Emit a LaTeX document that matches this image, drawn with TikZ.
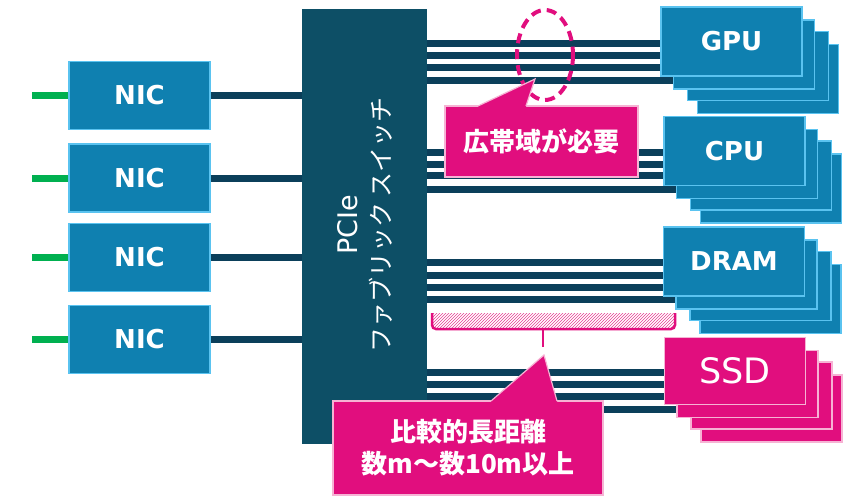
\documentclass[tikz,border=0pt]{standalone}
\usepackage{fontspec}
\newfontfamily\jp{Noto Sans CJK JP}
\newfontfamily\lat{DejaVu Sans}
\usetikzlibrary{backgrounds,patterns,calc}
\definecolor{pcieblue}{HTML}{0D4F66}
\definecolor{busblue}{HTML}{0B3F5A}
\definecolor{devblue}{HTML}{0F80B0}
\definecolor{devborder}{HTML}{5AC3F0}
\definecolor{mag}{HTML}{E10E7E}
\definecolor{pinkborder}{HTML}{F6B3D4}
\definecolor{hatchpink}{HTML}{E53D94}
\definecolor{netgreen}{HTML}{00B050}
\tikzset{
  devbox/.style={rectangle, fill=devblue, draw=devborder, line width=1.5pt,
    minimum width=141pt, minimum height=69pt, inner sep=0pt,
    text=white, font=\lat\bfseries\fontsize{26}{30}\selectfont},
  ssdbox/.style={rectangle, fill=mag, draw=pinkborder, line width=1.5pt,
    minimum width=141pt, minimum height=67pt, inner sep=0pt,
    text=white, font=\lat\fontsize{35}{40}\selectfont},
  nicbox/.style={rectangle, fill=devblue, draw=devborder, line width=1.5pt,
    minimum width=141pt, minimum height=68pt, inner sep=0pt,
    text=white, font=\lat\bfseries\fontsize{26}{30}\selectfont},
  bus/.style={draw=busblue, line width=7pt},
  netline/.style={draw=netgreen, line width=7pt},
  callout/.style={rectangle, fill=mag, draw=pinkborder, line width=1.2pt,
    inner sep=0pt, text=white, align=center,
    font=\jp\bfseries\fontsize{26}{32}\selectfont},
  pointer/.style={fill=mag},
  pointeredge/.style={draw=pinkborder, line width=1.2pt},
}
\newcommand\devstack[5]{%
  \node[#4] (#1d) at ($(#2,#3)+(36.5,37.5)$) {};
  \node[#4] (#1c) at ($(#2,#3)+(26.5,24.5)$) {};
  \node[#4] (#1b) at ($(#2,#3)+(12.5,13)$) {};
  \node[#4] (#1a) at (#2,#3) {#5};}
\begin{document}
\begin{tikzpicture}[x=1pt,y=-1pt]
\useasboundingbox (0,0) rectangle (846,501);

% PCIe switch
\node[rectangle, fill=pcieblue, minimum width=125pt, minimum height=435pt, inner sep=0pt] (pcie) at (364.5,226.5) {};
\node[rotate=90, text=white, font=\lat\fontsize{27}{30}\selectfont, inner sep=0pt] (pcielbl1) at (348,225) {PCIe};
\node[rotate=90, text=white, font=\jp\fontsize{25}{30}\selectfont, inner sep=0pt] (pcielbl2) at (381,225) {ファブリック スイッチ};

% NICs
\node[nicbox] (nic1) at (139.5,95.5) {NIC};
\node[nicbox] (nic2) at (139.5,178) {NIC};
\node[nicbox] (nic3) at (139.5,257.5) {NIC};
\node[nicbox] (nic4) at (139.5,339.5) {NIC};
\foreach \i in {1,2,3,4} {
  \coordinate (net\i) at (nic\i.west -| 32,0);
  \draw[netline] (net\i) -- (nic\i.west);
  \draw[bus] (nic\i.east) -- (nic\i.east -| pcie.west);
}

% device stacks
\devstack{gpu}{731.5}{41.5}{devbox}{GPU}
\devstack{cpu}{734.5}{151}{devbox}{CPU}
\devstack{dram}{734}{261.5}{devbox}{DRAM}
\devstack{ssd}{735}{371}{ssdbox}{SSD}

% buses
\begin{pgfonlayer}{background}
\foreach \y in {43,55,67} \draw[bus] (pcie.east |- 0,\y) -- (gpua.west |- 0,\y);
\draw[bus] (pcie.east |- 0,80) -- (gpub.west |- 0,80);
\foreach \y in {152,164,175} \draw[bus] (pcie.east |- 0,\y) -- (cpua.west |- 0,\y);
\draw[bus] (pcie.east |- 0,189) -- (cpub.west |- 0,189);
\foreach \y in {262,275,287} \draw[bus] (pcie.east |- 0,\y) -- (drama.west |- 0,\y);
\draw[bus] (pcie.east |- 0,299) -- (dramb.west |- 0,299);
\foreach \y in {372,384,396} \draw[bus] (pcie.east |- 0,\y) -- (ssda.west |- 0,\y);
\draw[bus] (pcie.east |- 0,409) -- (ssdb.west |- 0,409);
\end{pgfonlayer}

% dashed ellipse
\draw[mag, line width=4pt, dash pattern=on 10pt off 6pt] (545,55) ellipse [x radius=28, y radius=45];

% hatched bracket
\fill[pattern=north east lines, pattern color=hatchpink] (433,313) rectangle (675,328);
\draw[mag, line width=2.5pt, rounded corners=4pt] (432,313) -- (432,329) -- (675,329) -- (675,313);
\coordinate (brtick) at (543,329);
\draw[mag, line width=2.5pt] (brtick) -- ++(0,18);

% callout 1
\node[callout, minimum width=193pt, minimum height=71pt] (bw) at (541.5,141.5) {広帯域が必要};
\coordinate (tip1) at (535,79);
\fill[pointer] (478,108) -- (478,106) -- (tip1) -- (526,106) -- (526,108) -- cycle;
\draw[pointeredge] (478,106) -- (tip1) -- (526,106);

% callout 2
\node[callout, minimum width=270pt, minimum height=94pt] (far) at (468,448) {比較的長距離\\数m～数10m以上};
\coordinate (tip2) at (544,355);
\fill[pointer] (491,403) -- (491,401) -- (tip2) -- (557,401) -- (557,403) -- cycle;
\draw[pointeredge] (491,401) -- (tip2) -- (557,401);
\end{tikzpicture}
\end{document}
